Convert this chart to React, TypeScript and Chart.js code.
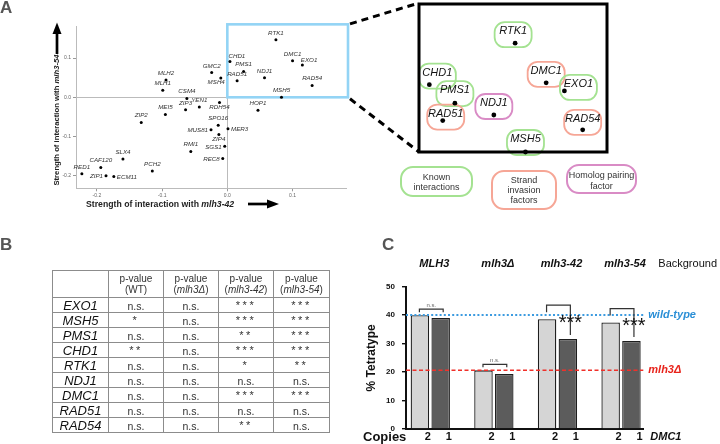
import React, { useEffect, useRef } from 'react';
import { Chart, registerables } from 'chart.js';

Chart.register(...registerables);

const FONT = "'Liberation Sans', Arial, Helvetica, sans-serif";
Chart.defaults.font.family = FONT;

// ---------------- Panel A data ----------------
const genes = ['RTK1', 'DMC1', 'EXO1', 'CHD1', 'PMS1', 'RAD51', 'NDJ1', 'RAD54', 'MSH5', 'GMC2', 'MSH4', 'MLH2', 'MLH1', 'CSM4', 'ZIP3', 'YEN1', 'RDH54', 'HOP1', 'MEI5', 'ZIP2', 'SPO16', 'MUS81', 'MER3', 'ZIP4', 'SGS1', 'RMI1', 'REC8', 'SLX4', 'CAF120', 'PCH2', 'RED1', 'ZIP1', 'ECM11'];
const interactionMlh342 = [0.0745, 0.100, 0.115, 0.004, 0.025, 0.015, 0.057, 0.130, 0.083, -0.024, -0.010, -0.094, -0.099, -0.062, -0.064, -0.043, -0.012, 0.047, -0.095, -0.132, -0.014, -0.025, 0.001, -0.013, -0.004, -0.056, -0.007, -0.160, -0.194, -0.115, -0.223, -0.186, -0.174];
const interactionMlh354 = [0.147, 0.0935, 0.0825, 0.091, 0.066, 0.0425, 0.050, 0.030, 0.000, 0.063, 0.049, 0.044, 0.018, -0.003, -0.032, -0.025, -0.013, -0.033, -0.044, -0.064, -0.071, -0.083, -0.080, -0.095, -0.125, -0.138, -0.156, -0.157, -0.179, -0.188, -0.195, -0.200, -0.202];
const knownInteractions = ['RTK1', 'CHD1', 'PMS1', 'EXO1', 'MSH5'];
const strandInvasionFactors = ['DMC1', 'RAD51', 'RAD54'];
const homologPairingFactors = ['NDJ1'];
const zoomedRangeX = [0, 0.185];
const zoomedRangeY = [0, 0.186];

// ---------------- Panel B data ----------------
const tableGenes = ['EXO1', 'MSH5', 'PMS1', 'CHD1', 'RTK1', 'NDJ1', 'DMC1', 'RAD51', 'RAD54'];
const pValueColumns = ['WT', 'mlh3Δ', 'mlh3-42', 'mlh3-54'];
const pWT = ['n.s.', '*', 'n.s.', '**', 'n.s.', 'n.s.', 'n.s.', 'n.s.', 'n.s.'];
const pMlh3Delta = ['n.s.', 'n.s.', 'n.s.', 'n.s.', 'n.s.', 'n.s.', 'n.s.', 'n.s.', 'n.s.'];
const pMlh342 = ['***', '***', '**', '***', '*', 'n.s.', '***', 'n.s.', '**'];
const pMlh354 = ['***', '***', '***', '***', '**', 'n.s.', '***', 'n.s.', 'n.s.'];

// ---------------- Panel C data ----------------
const backgrounds = ['MLH3', 'mlh3Δ', 'mlh3-42', 'mlh3-54'];
const twoCopiesDMC1 = [40.0, 20.6, 38.6, 37.4];
const oneCopyDMC1 = [39.0, 19.3, 31.6, 30.9];
const copyLabels = ['2', '1'];
const significance = ['n.s.', 'n.s.', '***', '***'];
const wildTypeLevel = 40.1;
const mlh3DeltaLevel = 20.6;

// ---------------- styles (not data) ----------------
const labelPlacement: Record<string, string> = {
  EXO1: 'ar', CHD1: 'ar', MSH4: 'bl', RDH54: 'b', MUS81: 'l', MER3: 'r', ZIP4: 'b',
  SGS1: 'l', REC8: 'l', ZIP1: 'l', ECM11: 'r',
};
const insetLabelOffset: Record<string, [number, number]> = {
  CHD1: [8, -12], RAD51: [3, -7], EXO1: [14, -7], RTK1: [-2, -12], PMS1: [0, -13], MSH5: [0, -13], RAD54: [0, -11],
};
const GREEN = '#a4e291';
const SALMON = '#f6a696';
const PINK = '#d98bc5';
const categoryColor = (g: string) =>
  knownInteractions.includes(g) ? GREEN : strandInvasionFactors.includes(g) ? SALMON : homologPairingFactors.includes(g) ? PINK : '#999';

const points = genes.map((g, i) => ({ x: interactionMlh342[i], y: interactionMlh354[i] }));
const insetGenes = genes.filter((g, i) => interactionMlh342[i] >= zoomedRangeX[0] && interactionMlh354[i] >= zoomedRangeY[0]);
const insetPoints = insetGenes.map((g) => {
  const i = genes.indexOf(g);
  return { x: interactionMlh342[i], y: interactionMlh354[i] };
});

const mainDecor = {
  id: 'mainDecor',
  beforeDatasetsDraw(chart: any) {
    const { ctx, scales } = chart;
    const x = scales.x, y = scales.y;
    const l = x.getPixelForValue(zoomedRangeX[0]);
    const r = x.getPixelForValue(zoomedRangeX[1]);
    const t = y.getPixelForValue(zoomedRangeY[1]);
    const b = y.getPixelForValue(zoomedRangeY[0]);
    ctx.save();
    ctx.strokeStyle = '#93d4f5';
    ctx.lineWidth = 2.6;
    ctx.strokeRect(l, t, r - l, b - t);
    ctx.strokeStyle = '#000';
    ctx.lineWidth = 3;
    ctx.setLineDash([7, 5]);
    ctx.beginPath();
    ctx.moveTo(r + 2, t - 0.5);
    ctx.lineTo(419, 3);
    ctx.stroke();
    ctx.beginPath();
    ctx.moveTo(r + 2, b + 1.5);
    ctx.lineTo(419, 152);
    ctx.stroke();
    ctx.restore();
  },
  afterDatasetsDraw(chart: any) {
    const { ctx } = chart;
    const meta = chart.getDatasetMeta(0);
    ctx.save();
    ctx.font = `italic 6.2px ${FONT}`;
    ctx.fillStyle = '#333';
    ctx.textBaseline = 'middle';
    meta.data.forEach((pt: any, i: number) => {
      const place = labelPlacement[genes[i]] || 'a';
      let tx = pt.x, ty = pt.y;
      let align: CanvasTextAlign = 'center';
      if (place === 'a') { ty -= 6.8; }
      else if (place === 'ar') { tx -= 1.5; ty -= 5; align = 'left'; }
      else if (place === 'l') { tx -= 3; ty += 0.5; align = 'right'; }
      else if (place === 'r') { tx += 3; ty += 0.5; align = 'left'; }
      else if (place === 'b') { ty += 5; }
      else if (place === 'bl') { tx += 4; ty += 4.5; align = 'right'; }
      ctx.textAlign = align;
      ctx.fillText(genes[i], tx, ty);
    });
    ctx.restore();
  },
};

const insetDecor = {
  id: 'insetDecor',
  beforeDatasetsDraw(chart: any) {
    const { ctx, chartArea: ca } = chart;
    const meta = chart.getDatasetMeta(0);
    ctx.save();
    meta.data.forEach((pt: any, i: number) => {
      const g = insetGenes[i];
      const [dx, dy] = insetLabelOffset[g] || [0, -12];
      const tx = pt.x + dx, ty = pt.y + dy;
      ctx.strokeStyle = categoryColor(g);
      ctx.lineWidth = 1.8;
      ctx.beginPath();
      (ctx as any).roundRect(tx - 18.5, ty - 9, 37, 25, 10);
      ctx.stroke();
      ctx.font = `italic 11px ${FONT}`;
      ctx.fillStyle = '#111';
      ctx.textAlign = 'center';
      ctx.textBaseline = 'middle';
      ctx.fillText(g, tx, ty);
    });
    ctx.lineWidth = 3;
    ctx.strokeStyle = '#000';
    ctx.strokeRect(ca.left, ca.top, ca.right - ca.left, ca.bottom - ca.top);
    ctx.restore();
  },
};

const barDecor = {
  id: 'barDecor',
  afterDatasetsDraw(chart: any) {
    const { ctx, chartArea: ca, scales } = chart;
    const x = scales.x, y = scales.y;
    const m0 = chart.getDatasetMeta(0), m1 = chart.getDatasetMeta(1);
    ctx.save();
    // reference lines
    const yw = y.getPixelForValue(wildTypeLevel);
    const yd = y.getPixelForValue(mlh3DeltaLevel);
    ctx.setLineDash([2, 2.2]);
    ctx.lineWidth = 2;
    ctx.strokeStyle = '#3c9be0';
    ctx.beginPath(); ctx.moveTo(ca.left, yw); ctx.lineTo(ca.right, yw); ctx.stroke();
    ctx.setLineDash([4, 2.5]);
    ctx.lineWidth = 1.5;
    ctx.strokeStyle = '#f0302a';
    ctx.beginPath(); ctx.moveTo(ca.left, yd); ctx.lineTo(ca.right, yd); ctx.stroke();
    ctx.setLineDash([]);
    ctx.textBaseline = 'middle';
    ctx.textAlign = 'left';
    ctx.font = `italic bold 11px ${FONT}`;
    ctx.fillStyle = '#2b8fd6';
    ctx.fillText('wild-type', ca.right + 5, yw);
    ctx.fillStyle = '#e8231b';
    ctx.fillText('mlh3Δ', ca.right + 5, yd);
    // headers
    ctx.fillStyle = '#111';
    ctx.textAlign = 'center';
    backgrounds.forEach((b, i) => ctx.fillText(b, x.getPixelForValue(i) + 4, ca.top - 22.7));
    ctx.font = `11px ${FONT}`;
    ctx.textAlign = 'left';
    ctx.fillText('Background', ca.right + 15, ca.top - 22.7);
    // copy labels
    ctx.font = `bold 11px ${FONT}`;
    ctx.textAlign = 'center';
    [m0, m1].forEach((m: any, d: number) => m.data.forEach((bar: any) => ctx.fillText(copyLabels[d], bar.x + 8, ca.bottom + 8)));
    ctx.textAlign = 'left';
    ctx.font = `bold 13px ${FONT}`;
    ctx.fillText('Copies', 3, ca.bottom + 8);
    ctx.font = `italic bold 11px ${FONT}`;
    ctx.fillText('DMC1', ca.right + 7, ca.bottom + 8);
    // brackets
    ctx.strokeStyle = '#333';
    ctx.lineWidth = 1.2;
    significance.forEach((sig, i) => {
      const a = m0.data[i], b = m1.data[i];
      const tall = Math.min(a.y, b.y);
      const low = Math.max(a.y, b.y);
      const xa = a.x - 0.5, xb = b.x + 2.5;
      if (sig === 'n.s.') {
        const yb = tall - 6;
        ctx.beginPath();
        ctx.moveTo(xa, yb + 3); ctx.lineTo(xa, yb); ctx.lineTo(xb, yb); ctx.lineTo(xb, yb + 3);
        ctx.stroke();
        ctx.font = `6px ${FONT}`;
        ctx.fillStyle = '#666';
        ctx.textAlign = 'center';
        ctx.textBaseline = 'middle';
        ctx.fillText(sig, (xa + xb) / 2, yb - 4);
      } else {
        const yb = tall - 14;
        ctx.beginPath();
        ctx.moveTo(xa, tall - 7); ctx.lineTo(xa, yb); ctx.lineTo(xb, yb); ctx.lineTo(xb, low - 4);
        ctx.stroke();
        ctx.font = `20px ${FONT}`;
        ctx.fillStyle = '#111';
        ctx.textAlign = 'center';
        ctx.textBaseline = 'alphabetic';
        ctx.fillText(sig, xb, yb + 12.5 + 11);
      }
    });
    ctx.restore();
  },
};

function mainConfig(): any {
  return {
    type: 'scatter',
    data: { datasets: [{ data: points, pointRadius: 1.5, backgroundColor: '#000', borderWidth: 0 }] },
    options: {
      animation: false,
      responsive: false,
      layout: { padding: { top: 26.7, right: 73.3, left: 0, bottom: 0 } },
      plugins: { legend: { display: false }, tooltip: { enabled: false } },
      scales: {
        x: {
          type: 'linear', min: -0.232, max: 0.183,
          afterFit: (s: any) => { s.height = 31.7; },
          border: { color: '#bbb', width: 1 },
          grid: { color: (c: any) => (c.tick && Math.abs(c.tick.value) < 1e-9 ? '#bbb' : 'rgba(0,0,0,0)'), tickColor: '#999', tickLength: 3 },
          ticks: { stepSize: 0.1, includeBounds: false, maxRotation: 0, padding: 1, color: '#666', font: { size: 5 }, callback: (v: any) => Number(v).toFixed(1) },
        },
        y: {
          type: 'linear', min: -0.232, max: 0.18,
          afterFit: (s: any) => { s.width = 76; },
          border: { color: '#bbb', width: 1 },
          grid: { color: (c: any) => (c.tick && Math.abs(c.tick.value) < 1e-9 ? '#bbb' : 'rgba(0,0,0,0)'), tickColor: '#999', tickLength: 3 },
          ticks: { stepSize: 0.1, includeBounds: false, padding: 2, color: '#666', font: { size: 5 }, callback: (v: any) => Number(v).toFixed(1) },
        },
      },
    },
    plugins: [mainDecor],
  };
}

function insetConfig(): any {
  return {
    type: 'scatter',
    data: { datasets: [{ data: insetPoints, pointRadius: 2.4, backgroundColor: '#000', borderWidth: 0, clip: false }] },
    options: {
      animation: false,
      responsive: false,
      layout: { padding: { left: 10, top: 3, right: 10, bottom: 10 } },
      plugins: { legend: { display: false }, tooltip: { enabled: false } },
      scales: {
        x: { type: 'linear', min: -0.0045, max: 0.15, display: false },
        y: { type: 'linear', min: 0, max: 0.2, display: false },
      },
    },
    plugins: [insetDecor],
  };
}

function barConfig(): any {
  return {
    type: 'bar',
    data: {
      datasets: [
        { label: '2', data: backgrounds.map((_, i) => ({ x: i, y: twoCopiesDMC1[i] })), backgroundColor: '#d5d5d5', borderColor: '#1e1e1e', borderWidth: 1.3, categoryPercentage: 0.654, barPercentage: 0.89 },
        { label: '1', data: backgrounds.map((_, i) => ({ x: i, y: oneCopyDMC1[i] })), backgroundColor: '#5c5c5c', borderColor: '#1e1e1e', borderWidth: 1.3, categoryPercentage: 0.654, barPercentage: 0.89 },
      ],
    },
    options: {
      animation: false,
      responsive: false,
      layout: { padding: { top: 36.7, right: 76.7, left: 0, bottom: 0 } },
      plugins: { legend: { display: false }, tooltip: { enabled: false } },
      scales: {
        x: {
          type: 'linear', min: -0.382, max: 3.35, offset: false,
          afterFit: (s: any) => { s.height = 15; },
          grid: { display: false, offset: false },
          border: { display: true, color: '#111', width: 2 },
          ticks: { display: false, stepSize: 1, includeBounds: false },
        },
        y: {
          min: 0, max: 50,
          afterFit: (s: any) => { s.width = 46; },
          grid: { drawOnChartArea: false, tickLength: 4, color: '#111', lineWidth: 1.4 },
          border: { color: '#111', width: 2 },
          ticks: { stepSize: 10, padding: 7, color: '#111', font: { size: 8, weight: 'bold' } },
          title: { display: true, text: '% Tetratype', color: '#111', font: { size: 12, weight: 'bold' }, padding: { top: 4, bottom: 0 } },
        },
      },
    },
    plugins: [barDecor],
  };
}

type TP = {
  x: number; y: number; size: number; align?: 'left' | 'center' | 'right';
  bold?: boolean; italic?: boolean; color?: string; rotate?: boolean; children: React.ReactNode;
};
function T({ x, y, size, align = 'left', bold, italic, color = '#222', rotate, children }: TP) {
  const style: React.CSSProperties = {
    position: 'absolute', left: x, top: rotate ? y : y - size / 2, fontSize: size, lineHeight: `${size}px`,
    fontWeight: bold ? 'bold' : 'normal', fontStyle: italic ? 'italic' : 'normal', color, whiteSpace: 'nowrap', fontFamily: FONT,
  };
  if (rotate) style.transform = 'translate(-50%,-50%) rotate(-90deg)';
  else if (align === 'center') style.transform = 'translateX(-50%)';
  else if (align === 'right') style.transform = 'translateX(-100%)';
  return <div style={style}>{children}</div>;
}

function LegendBox({ left, top, w, h, color, lines, lh, padTop = 0 }: { left: number; top: number; w: number; h: number; color: string; lines: string[]; lh: number; padTop?: number }) {
  return (
    <div style={{
      position: 'absolute', left, top, width: w, height: h, boxSizing: 'border-box', border: `2.5px solid ${color}`, borderRadius: 13,
      display: 'flex', flexDirection: 'column', alignItems: 'center', justifyContent: 'center', paddingTop: padTop,
      fontFamily: FONT, fontSize: 9, lineHeight: `${lh}px`, color: '#333',
    }}>
      {lines.map((l) => <div key={l}>{l}</div>)}
    </div>
  );
}

function PTable() {
  const cols = [pWT, pMlh3Delta, pMlh342, pMlh354];
  const cell: React.CSSProperties = { border: '1px solid #8c8c8c', padding: 0, textAlign: 'center', verticalAlign: 'middle', color: '#333' };
  return (
    <table style={{ position: 'absolute', left: 52, top: 270, width: 277, borderCollapse: 'collapse', tableLayout: 'fixed', fontFamily: FONT }}>
      <colgroup>
        <col style={{ width: 56 }} />
        <col style={{ width: 55 }} />
        <col style={{ width: 55 }} />
        <col style={{ width: 55 }} />
        <col style={{ width: 56 }} />
      </colgroup>
      <thead>
        <tr style={{ height: 27 }}>
          <th style={cell}></th>
          {pValueColumns.map((c) => (
            <th key={c} style={{ ...cell, fontWeight: 'normal', fontSize: 10, lineHeight: '11px' }}>
              p-value<br />({c === 'WT' ? c : <i>{c}</i>})
            </th>
          ))}
        </tr>
      </thead>
      <tbody>
        {tableGenes.map((g, i) => (
          <tr key={g} style={{ height: 14.5 }}>
            <td style={{ ...cell, fontStyle: 'italic', fontSize: 13, lineHeight: '13px', color: '#111' }}>{g}</td>
            {cols.map((col, j) => (
              <td key={j} style={{ ...cell, fontSize: col[i] === 'n.s.' ? 10.5 : 11, lineHeight: '12px', letterSpacing: col[i] === 'n.s.' ? 0 : 2.5, paddingTop: col[i] === 'n.s.' ? 2 : 0 }}>{col[i]}</td>
            ))}
          </tr>
        ))}
      </tbody>
    </table>
  );
}

export default function App() {
  const mainRef = useRef<HTMLCanvasElement>(null);
  const insetRef = useRef<HTMLCanvasElement>(null);
  const barRef = useRef<HTMLCanvasElement>(null);

  useEffect(() => {
    const charts = [
      new Chart(mainRef.current as HTMLCanvasElement, mainConfig()),
      new Chart(insetRef.current as HTMLCanvasElement, insetConfig()),
      new Chart(barRef.current as HTMLCanvasElement, barConfig()),
    ];
    return () => charts.forEach((c) => c.destroy());
  }, []);

  return (
    <div style={{ position: 'fixed', left: 0, top: 0, width: 720, height: 444, background: '#fff', overflow: 'hidden', fontFamily: FONT }}>
      <canvas ref={mainRef} width={420} height={220} style={{ position: 'absolute', left: 0, top: 0, width: 420, height: 220 }} />
      <canvas ref={insetRef} width={208} height={162} style={{ position: 'absolute', left: 409, top: 0, width: 208, height: 162 }} />
      <canvas ref={barRef} width={360} height={194} style={{ position: 'absolute', left: 360, top: 250, width: 360, height: 194 }} />

      <svg width={720} height={444} style={{ position: 'absolute', left: 0, top: 0, pointerEvents: 'none' }}>
        <line x1={248} y1={204} x2={268} y2={204} stroke="#000" strokeWidth={2.7} />
        <polygon points="267,199.5 279,204 267,208.5" fill="#000" />
        <line x1={57} y1={54} x2={57} y2={33} stroke="#000" strokeWidth={2.7} />
        <polygon points="52.5,34 57,22.5 61.5,34" fill="#000" />
      </svg>

      <T x={0} y={7.5} size={17} bold color="#555">A</T>
      <T x={0} y={244} size={17} bold color="#555">B</T>
      <T x={382} y={244} size={17} bold color="#555">C</T>

      <T x={86} y={204} size={8.7} bold>Strength of interaction with <i>mlh3-42</i></T>
      <T x={57} y={120} size={7.7} bold rotate>Strength of interaction with <i>mlh3-54</i></T>

      <LegendBox left={400} top={166} w={73} h={31} color={GREEN} lines={['Known', 'interactions']} lh={10} />
      <LegendBox left={491} top={170} w={66} h={40} color={SALMON} lines={['Strand', 'invasion', 'factors']} lh={10.3} />
      <LegendBox left={566} top={164} w={71} h={30} color={PINK} lines={['Homolog pairing', 'factor']} lh={10.6} padTop={4} />

      <PTable />
    </div>
  );
}
